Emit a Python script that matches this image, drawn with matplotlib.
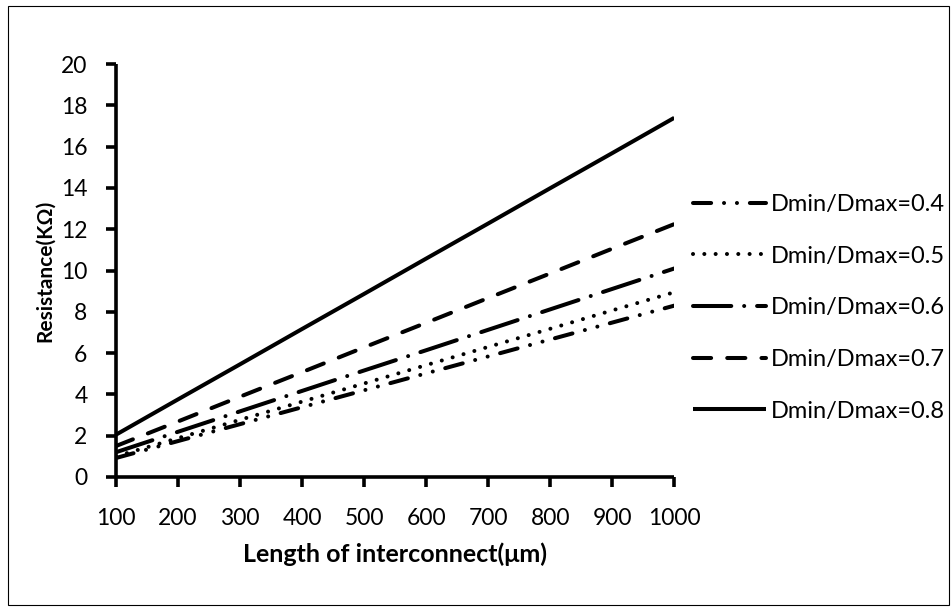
import matplotlib.pyplot as plt
from matplotlib.patches import Rectangle

plt.rcParams['font.family'] = ['Lato', 'DejaVu Sans']

length = [100, 200, 300, 400, 500, 600, 700, 800, 900, 1000]
r_04 = [0.92, 1.74, 2.56, 3.38, 4.20, 5.02, 5.84, 6.66, 7.48, 8.30]
r_05 = [1.00, 1.88, 2.77, 3.65, 4.53, 5.42, 6.30, 7.18, 8.07, 8.95]
r_06 = [1.20, 2.19, 3.18, 4.17, 5.16, 6.14, 7.13, 8.12, 9.11, 10.10]
r_07 = [1.50, 2.69, 3.89, 5.08, 6.28, 7.47, 8.67, 9.86, 11.06, 12.25]
r_08 = [2.05, 3.76, 5.46, 7.17, 8.87, 10.58, 12.28, 13.99, 15.69, 17.40]
labels = ['Dmin/Dmax=0.4', 'Dmin/Dmax=0.5', 'Dmin/Dmax=0.6',
          'Dmin/Dmax=0.7', 'Dmin/Dmax=0.8']

fig = plt.figure(figsize=(9.51, 6.08), dpi=100)
ax = fig.add_axes([0.122, 0.2155, 0.587, 0.679])

lw = 2.9
styles = [
    (0, (4.5, 3.2, 0.01, 3.2, 0.01, 3.2)),
    (0, (0.01, 2.8)),
    (0, (9.5, 3.2, 0.01, 3.2)),
    (0, (4.5, 4.0)),
    '-',
]
series = [r_04, r_05, r_06, r_07, r_08]
for vals, ls, lab in zip(series, styles, labels):
    ax.plot(length, vals, color='black', lw=lw, linestyle=ls, label=lab,
            dash_capstyle='round', solid_capstyle='butt')

ax.set_xlim(100, 1000)
ax.set_ylim(0, 20)
ax.set_xticks(length)
ax.set_yticks(range(0, 21, 2))
for side in ['top', 'right']:
    ax.spines[side].set_visible(False)
for side in ['left', 'bottom']:
    ax.spines[side].set_linewidth(2.6)
    ax.spines[side].set_capstyle('butt')
ax.tick_params(direction='out', length=7, width=2.6, labelsize=16.5)
ax.tick_params(axis='x', pad=15)
ax.tick_params(axis='y', pad=13.5)

ax.set_xlabel('Length of interconnect(μm)', fontsize=18, fontweight='bold', labelpad=10)
ax.set_ylabel('Resistance(KΩ)', fontsize=15, fontweight='bold', labelpad=4)

ax.legend(loc='center left', bbox_to_anchor=(0.995, 0.41), frameon=False,
          fontsize=17, handlelength=3.1, handletextpad=0.2, labelspacing=1.3)

fig.patches.append(Rectangle((8 / 951, 1 - 605 / 608), 941 / 951, 599 / 608,
                             transform=fig.transFigure, fill=False,
                             edgecolor='black', lw=0.8))

fig.savefig('out.png', dpi=100)
